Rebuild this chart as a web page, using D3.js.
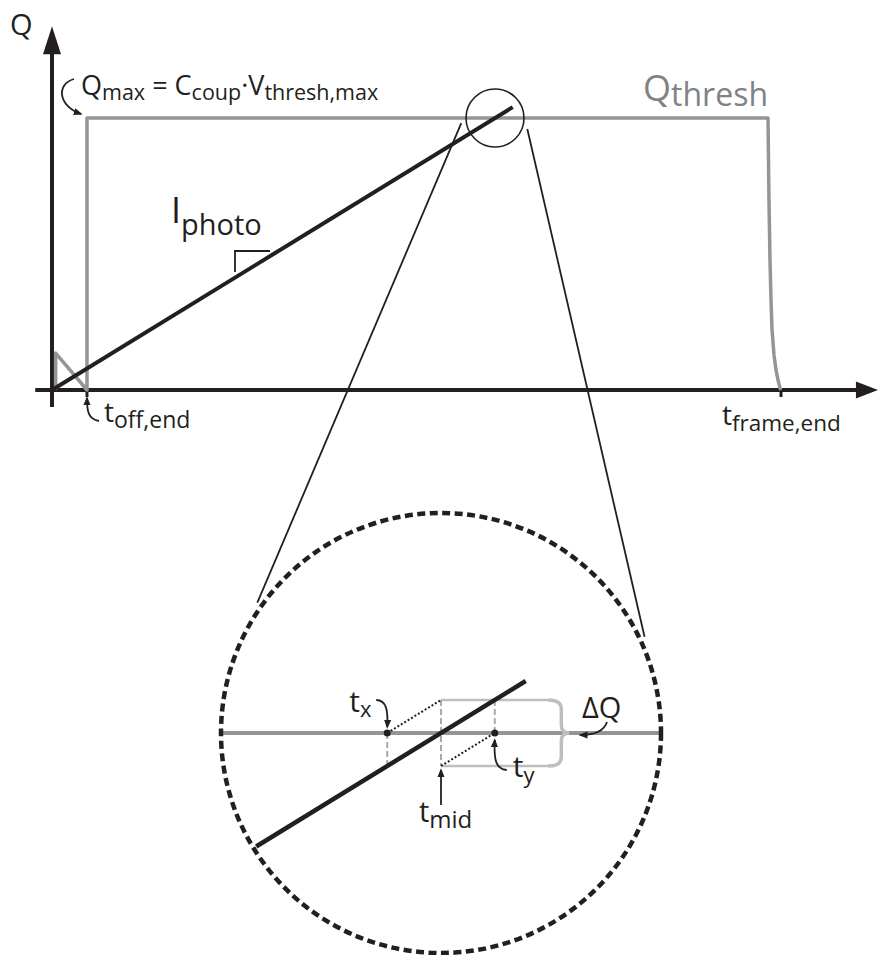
<!DOCTYPE html>
<html>
<head>
<meta charset="utf-8">
<script src="https://cdn.jsdelivr.net/npm/d3@7"></script>
<style>
  body { margin: 0; background: #fff; }
  text { font-family: "Open Sans", sans-serif; white-space: pre; }
</style>
</head>
<body>
<svg id="fig" width="878" height="955"></svg>
<script>
// Time in units of the frame length, charge in units of Q_max.
const tOffEnd = 0.048;
const tFrameEnd = 1;
const qMax = 1;

// Threshold charge over one frame (reset ramp, flat top, fall at frame end).
const qThreshT = [0.005, 0.005, 0.048, 0.048, 0.9822, 0.9835, 0.9849, 0.9863, 0.9877, 0.9904, 0.9931, 0.9959, 0.9986, 1];
const qThreshQ = [0, 0.136, 0, 1, 1, 0.699, 0.478, 0.331, 0.221, 0.129, 0.074, 0.037, 0.007, 0];

// Integrated photocurrent: a straight ramp from the origin.
const photoT = [0, 0.632];
const photoQ = [0, 1.04];

// Slope marker next to the ramp.
const slopeMarkT = [0.251, 0.299];
const slopeMarkQ = [0.434, 0.511];

// Axis extents.
const tAxisExtent = [-0.023, 1.133];
const qAxisExtent = [-0.0625, 1.337];

// Magnified view around the crossing of the ramp with Q_thresh.
const deltaQ = 0.016;
const zoomPhotoSpan = [-0.84, 0.385];   // in lens radii, around t_mid
const zoomBoxEnd = 0.506;               // in lens radii, around t_mid

const ink = "#231f20", grey = "#939598", light = "#bcbec0", dash = "#a7a9ac", greyText = "#808285";
const svg = d3.select("#fig");

const x = d3.scaleLinear().domain([0, 1]).range([52, 781]);
const y = d3.scaleLinear().domain([0, 1]).range([390, 118]);

const slope = photoQ[1] / photoT[1];
const tMid = qMax / slope;
const tX = tMid - deltaQ / slope;
const tY = tMid + deltaQ / slope;

// arrowheads
const defs = svg.append("defs");
defs.append("marker").attr("id", "head").attr("viewBox", "0 -5 10 10")
  .attr("refX", 8).attr("refY", 0).attr("markerWidth", 9).attr("markerHeight", 9)
  .attr("markerUnits", "userSpaceOnUse").attr("orient", "auto")
  .append("path").attr("d", "M0,-4L10,0L0,4Z").attr("fill", ink);

// ---- axes
svg.append("line").attr("x1", x(0)).attr("x2", x(0))
  .attr("y1", y(qAxisExtent[0])).attr("y2", y(qAxisExtent[1]) + 20)
  .attr("stroke", ink).attr("stroke-width", 4);
svg.append("path")
  .attr("d", `M${x(0)},${y(qAxisExtent[1])} l9,28 l-18,0 Z`).attr("fill", ink);
svg.append("line").attr("y1", y(0)).attr("y2", y(0))
  .attr("x1", x(tAxisExtent[0])).attr("x2", x(tAxisExtent[1]) - 18)
  .attr("stroke", ink).attr("stroke-width", 4);
svg.append("path")
  .attr("d", `M${x(tAxisExtent[1])},${y(0)} l-22,-8.5 l0,17 Z`).attr("fill", ink);

// ticks at t_off,end and t_frame,end
[tOffEnd, tFrameEnd].forEach(t => {
  svg.append("line").attr("x1", x(t)).attr("x2", x(t)).attr("y1", y(0)).attr("y2", y(0) + 7)
    .attr("stroke", ink).attr("stroke-width", 3);
});

// ---- Q_thresh and the photocurrent ramp
const line = d3.line().x(d => x(d[0])).y(d => y(d[1]));
svg.append("path").datum(d3.zip(qThreshT, qThreshQ)).attr("d", line)
  .attr("fill", "none").attr("stroke", grey).attr("stroke-width", 3.5).attr("stroke-linejoin", "round");
svg.append("path").datum(d3.zip(photoT, photoQ)).attr("d", line)
  .attr("fill", "none").attr("stroke", ink).attr("stroke-width", 4);

svg.append("path")
  .attr("d", `M${x(slopeMarkT[0])},${y(slopeMarkQ[0])} V${y(slopeMarkQ[1])} H${x(slopeMarkT[1])}`)
  .attr("fill", "none").attr("stroke", ink).attr("stroke-width", 1.8);

// ---- lens on the main plot and the magnified view
const lensPx = 29;
const c1 = [x(tMid), y(qMax)];
const c2 = [441, 733], R = 220;
const rt = lensPx / (x(1) - x(0));
const rq = lensPx / (y(0) - y(1));
const zx = d3.scaleLinear().domain([tMid - rt, tMid + rt]).range([c2[0] - R, c2[0] + R]);
const zy = d3.scaleLinear().domain([qMax - rq, qMax + rq]).range([c2[1] + R, c2[1] - R]);

svg.append("circle").attr("cx", c1[0]).attr("cy", c1[1]).attr("r", lensPx)
  .attr("fill", "none").attr("stroke", ink).attr("stroke-width", 1.6);

// external tangents joining the lens and the magnified view
{
  const dx = c2[0] - c1[0], dy = c2[1] - c1[1];
  const D = Math.hypot(dx, dy), th = Math.atan2(dy, dx), al = Math.asin((R - lensPx) / D);
  [1, -1].forEach(s => {
    const phi = th + s * al, nA = th + s * (al + Math.PI / 2);
    const u = [Math.cos(phi), Math.sin(phi)], n = [Math.cos(nA), Math.sin(nA)];
    const p1 = [c1[0] + lensPx * n[0] + 18 * u[0], c1[1] + lensPx * n[1] + 18 * u[1]];
    const p2 = [c2[0] + R * n[0] - 48 * u[0], c2[1] + R * n[1] - 48 * u[1]];
    svg.append("line").attr("x1", p1[0]).attr("y1", p1[1]).attr("x2", p2[0]).attr("y2", p2[1])
      .attr("stroke", ink).attr("stroke-width", 1.8);
  });
}

defs.append("clipPath").attr("id", "lensClip").append("circle")
  .attr("cx", c2[0]).attr("cy", c2[1]).attr("r", R - 2);
const zg = svg.append("g").attr("clip-path", "url(#lensClip)");
const zline = d3.line().x(d => zx(d[0])).y(d => zy(d[1]));

// Q_thresh through the magnified view
zg.append("path").datum([[tMid - rt, qMax], [tMid + rt, qMax]]).attr("d", zline)
  .attr("stroke", grey).attr("stroke-width", 4);

// ±ΔQ band
const tBox = tMid + zoomBoxEnd * rt;
[qMax + deltaQ, qMax - deltaQ].forEach(q => {
  zg.append("path").datum([[tMid, q], [tBox, q]]).attr("d", zline)
    .attr("stroke", light).attr("stroke-width", 2.5);
});
// curly brace marking ΔQ
{
  const bx = zx(tBox), yt = zy(qMax + deltaQ), yb = zy(qMax - deltaQ), ym = zy(qMax);
  zg.append("path")
    .attr("d", `M${bx - 4},${yt} Q${bx + 9},${yt} ${bx + 9},${yt + 9} L${bx + 9},${ym - 8} Q${bx + 9},${ym} ${bx + 17},${ym}` +
               ` Q${bx + 9},${ym} ${bx + 9},${ym + 8} L${bx + 9},${yb - 9} Q${bx + 9},${yb} ${bx - 4},${yb}`)
    .attr("fill", "none").attr("stroke", light).attr("stroke-width", 3.5);
}

// dashed verticals at t_x, t_mid, t_y
[[tX, qMax, qMax - deltaQ], [tMid, qMax + deltaQ, qMax - deltaQ], [tY, qMax + deltaQ, qMax]].forEach(([t, a, b]) => {
  zg.append("path").datum([[t, a], [t, b]]).attr("d", zline)
    .attr("stroke", dash).attr("stroke-width", 2).attr("stroke-dasharray", "6,3");
});

// dotted copies of the ramp
[[[tX, qMax], [tMid, qMax + deltaQ]], [[tMid, qMax - deltaQ], [tY, qMax]]].forEach(seg => {
  zg.append("path").datum(seg).attr("d", zline)
    .attr("stroke", ink).attr("stroke-width", 2).attr("stroke-dasharray", "2,2");
});

// magnified ramp
zg.append("path")
  .datum(zoomPhotoSpan.map(f => [tMid + f * rt, slope * (tMid + f * rt)]))
  .attr("d", zline).attr("stroke", ink).attr("stroke-width", 4.5);

[tX, tY].forEach(t => {
  zg.append("circle").attr("cx", zx(t)).attr("cy", zy(qMax)).attr("r", 3.5).attr("fill", ink);
});

svg.append("circle").attr("cx", c2[0]).attr("cy", c2[1]).attr("r", R)
  .attr("fill", "none").attr("stroke", ink).attr("stroke-width", 4.5).attr("stroke-dasharray", "8,4.5");

// ---- labels
function label(x0, y0, parts, fill, anchor) {
  const t = svg.append("text").attr("x", x0).attr("y", y0)
    .attr("fill", fill || ink).attr("text-anchor", anchor || "start");
  let shift = 0;
  parts.forEach(([str, size, off]) => {
    t.append("tspan").attr("font-size", size).attr("dy", off - shift).text(str);
    shift = off;
  });
}
function arrow(d) {
  svg.append("path").attr("d", d).attr("fill", "none").attr("stroke", ink)
    .attr("stroke-width", 1.8).attr("marker-end", "url(#head)");
}

label(10, 35, [["Q", 29, 0]]);
label(81, 95, [["Q", 27, 0], ["max", 21.5, 5], [" = C", 27, 0], ["coup", 21.5, 5], ["·V", 27, 0], ["thresh,max", 21.5, 5]]);
arrow(`M74,79 C56,84 58,106 ${x(tOffEnd) - 6},${y(qMax) - 4}`);

label(x(tFrameEnd) - 13, 101, [["Q", 36, 0], ["thresh", 32, 5]], greyText, "end");
label(171, 223, [["I", 36, 0], ["photo", 29, 12]]);

label(x(tOffEnd) + 17, 422, [["t", 28, 0], ["off,end", 23, 6]]);
arrow(`M${x(tOffEnd) + 12},421 C${x(tOffEnd) + 1},419 ${x(tOffEnd)},411 ${x(tOffEnd)},${y(0) + 8}`);
label(x(tFrameEnd) - 59, 425, [["t", 28, 0], ["frame,end", 22.5, 6]]);

label(zx(tX) - 38, 712, [["t", 30, 0], ["x", 22, 5]]);
arrow(`M${zx(tX) - 11},700 C${zx(tX) - 1},700 ${zx(tX) + 1},710 ${zx(tX)},${zy(qMax) - 6}`);

label(zx(tY) + 18, 777, [["t", 30, 0], ["y", 22, 6]]);
arrow(`M${zx(tY) + 12},770 C${zx(tY) + 1},769 ${zx(tY) - 1},760 ${zx(tY)},${zy(qMax) + 7}`);

label(zx(tMid) - 22, 822, [["t", 29, 0], ["mid", 24, 6]]);
arrow(`M${zx(tMid)},805 L${zx(tMid)},${zy(qMax - deltaQ) + 4}`);

label(582, 718, [["ΔQ", 29, 0]]);
arrow(`M607,722 C604,731 596,735 ${zx(tBox) + 28},735`);
</script>
</body>
</html>
